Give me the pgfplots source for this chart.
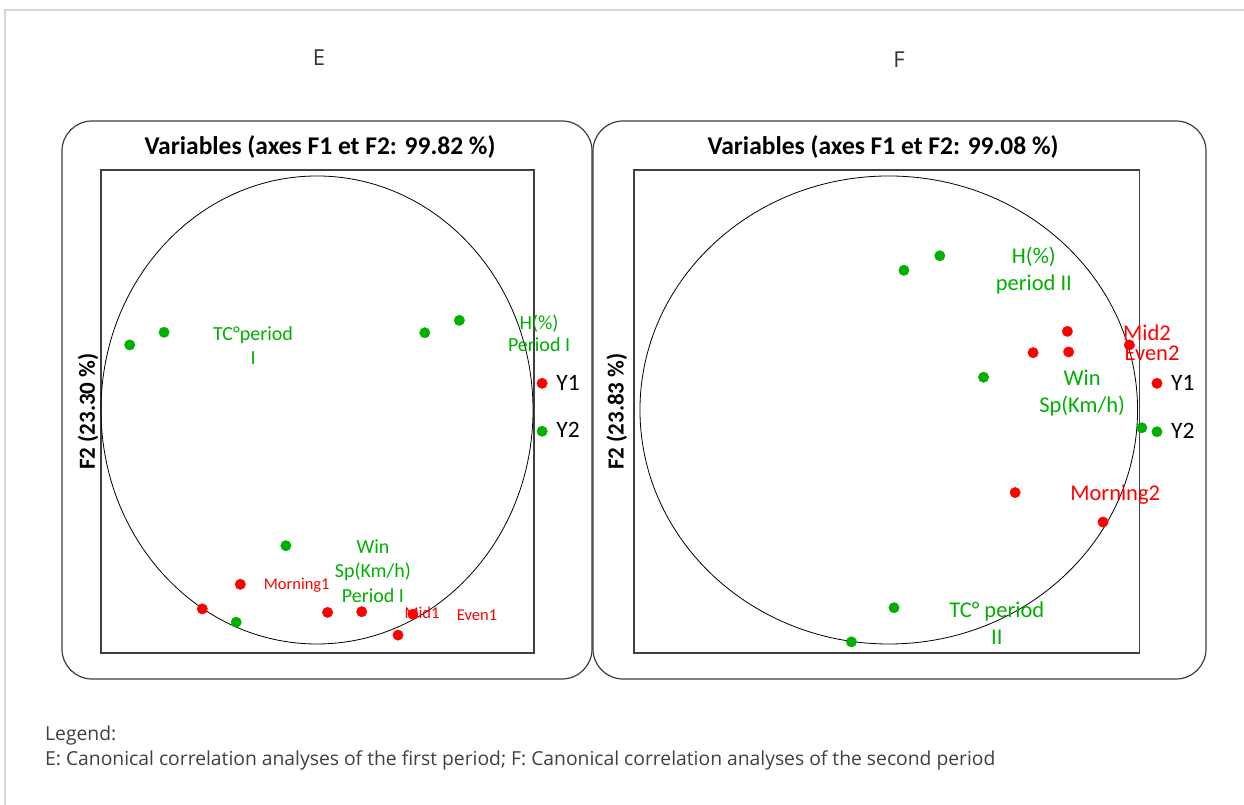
\documentclass[border=0pt]{standalone}
\usepackage{fontspec}
\setmainfont{Carlito}
\newfontfamily\osans{Open Sans}
\usepackage{pgfplots}
\pgfplotsset{compat=1.18}
\definecolor{ptgreen}{RGB}{0,176,0}
\definecolor{ptred}{RGB}{255,0,0}
\definecolor{framegray}{RGB}{60,60,60}
\definecolor{pagegray}{RGB}{215,215,215}

\pgfplotsset{
  corrcircle/.style={
    scale only axis, clip=false,
    xtick=\empty, ytick=\empty,
    axis line style={draw=black!75, line width=1.1pt},
    title style={font=\bfseries\fontsize{25.5}{30}\selectfont, anchor=center},
    ylabel style={font=\bfseries\fontsize{23}{28}\selectfont, anchor=center, rotate=0},
  },
  gpts/.style={only marks, mark=*, mark size=5.2pt, color=ptgreen},
  rpts/.style={only marks, mark=*, mark size=5.2pt, color=ptred},
}

\begin{document}
\begin{tikzpicture}[x=1pt,y=1pt]
\useasboundingbox (0,0) rectangle (1244,805);
\fill[white] (0,0) rectangle (1244,805);
\draw[pagegray, line width=1.5pt] (1244,795) -- (5,795) -- (5,0);

\node[font=\osans\fontsize{22}{26}\selectfont, text=black!80] at (319,747) {E};
\node[font=\osans\fontsize{22}{26}\selectfont, text=black!80] at (899,745) {F};

\draw[framegray, line width=1.2pt, rounded corners=30pt] (62,684) rectangle (592,126);
\draw[framegray, line width=1.2pt, rounded corners=30pt] (593,684) rectangle (1206,126);

% ---------------- Panel E: first period ----------------
\begin{axis}[corrcircle,
  at={(101pt,152pt)}, anchor=south west,
  width=433pt, height=483pt,
  xmin=-1.0, xmax=1.0046, ymin=-1.0385, ymax=1.0256,
  title={Variables (axes F1 et F2: 99.82 \%)},
  title style={at={(0.5058,1.036)}},
  ylabel={F2 (23.30 \%)},
  ylabel style={at={(-0.030,0.5)}},
]
\draw[black, line width=0.8pt] (axis cs:0,0) ellipse [x radius=1, y radius=1];
\addplot[gpts] coordinates {
  (-0.867,0.278) (-0.708,0.332) (0.499,0.330) (0.659,0.383)
  (-0.144,-0.580) (-0.374,-0.907) (1.042,-0.091)
};
\addplot[rpts] coordinates {
  (1.042,0.114) (-0.355,-0.745) (-0.531,-0.850) (0.049,-0.865)
  (0.207,-0.862) (0.444,-0.873) (0.375,-0.962)
};
\begin{scope}[every node/.style={align=center, text=ptgreen, font=\fontsize{20}{24}\selectfont}]
\node at (axis cs:-0.296,0.274) {TC°period\\I};
\node[font=\fontsize{20}{22}\selectfont] at (axis cs:1.028,0.329) {H(\%)\\Period I};
\node[font=\fontsize{20}{24.5}\selectfont] at (axis cs:0.259,-0.688) {Win\\Sp(Km/h)\\Period I};
\end{scope}
\begin{scope}[every node/.style={text=ptred, font=\fontsize{16.5}{20}\selectfont}]
\node at (axis cs:-0.094,-0.748) {Morning1};
\node at (axis cs:0.486,-0.868) {Mid1};
\node at (axis cs:0.741,-0.879) {Even1};
\end{scope}
\node[font=\fontsize{23.5}{26}\selectfont] at (axis cs:1.162,0.115) {Y1};
\node[font=\fontsize{23.5}{26}\selectfont] at (axis cs:1.162,-0.085) {Y2};
\end{axis}

% ---------------- Panel F: second period ----------------
\begin{axis}[corrcircle,
  at={(634pt,152pt)}, anchor=south west,
  width=505.3pt, height=483pt,
  xmin=-1.024, xmax=1.007, ymin=-1.0385, ymax=1.0256,
  title={Variables (axes F1 et F2: 99.08 \%)},
  title style={at={(0.493,1.036)}},
  ylabel={F2 (23.83 \%)},
  ylabel style={at={(-0.034,0.5)}},
]
\draw[black, line width=0.8pt] (axis cs:0,0) ellipse [x radius=1, y radius=1];
\addplot[gpts] coordinates {
  (0.205,0.659) (0.061,0.597) (0.381,0.140) (1.017,-0.076)
  (1.078,-0.093) (0.021,-0.845) (-0.150,-0.991)
};
\addplot[rpts] coordinates {
  (0.718,0.336) (0.580,0.245) (0.723,0.248) (0.967,0.278)
  (1.078,0.114) (0.508,-0.353) (0.861,-0.479)
};
\begin{scope}[every node/.style={align=center, text=ptgreen, font=\fontsize{22.5}{27}\selectfont}]
\node at (axis cs:0.583,0.595) {H(\%)\\period II};
\node at (axis cs:0.777,0.071) {Win\\Sp(Km/h)};
\node at (axis cs:0.434,-0.909) {TC° period\\II};
\end{scope}
\begin{scope}[every node/.style={text=ptred, font=\fontsize{22.5}{27}\selectfont}]
\node at (axis cs:1.038,0.330) {Mid2};
\node at (axis cs:1.058,0.242) {Even2};
\node at (axis cs:0.910,-0.360) {Morning2};
\end{scope}
\node[font=\fontsize{23.5}{26}\selectfont] at (axis cs:1.182,0.117) {Y1};
\node[font=\fontsize{23.5}{26}\selectfont] at (axis cs:1.182,-0.088) {Y2};
\end{axis}

\node[anchor=base west, inner sep=0pt, font=\osans\fontsize{19.3}{23}\selectfont, text=black!75] at (45,64) {Legend:};
\node[anchor=base west, inner sep=0pt, font=\osans\fontsize{19.3}{23}\selectfont, text=black!75] at (45,39)
  {E: Canonical correlation analyses of the first period; F: Canonical correlation analyses of the second period};
\end{tikzpicture}
\end{document}
